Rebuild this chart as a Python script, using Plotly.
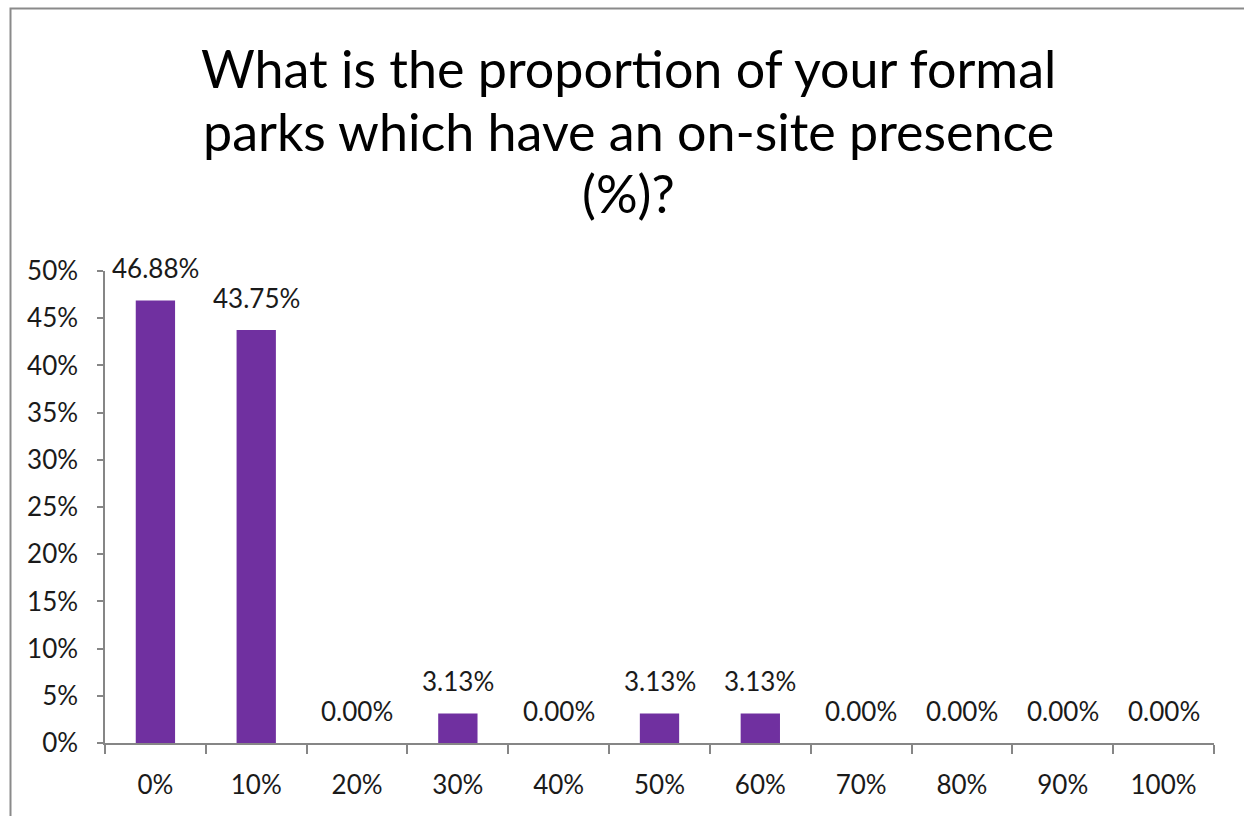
import plotly.graph_objects as go

categories = ["0%", "10%", "20%", "30%", "40%", "50%", "60%", "70%", "80%", "90%", "100%"]
shares = [46.88, 43.75, 0.00, 3.13, 0.00, 3.13, 3.13, 0.00, 0.00, 0.00, 0.00]
y_ticks = [0, 5, 10, 15, 20, 25, 30, 35, 40, 45, 50]
title_lines = ["What is the proportion of your formal",
               "parks which have an on-site presence",
               "(%)?"]

W, H = 1244, 816
L, R, T, B = 105, 30, 271, 73
pw, ph = W - L - R, H - T - B

def px_x(px):
    return (px - L) / pw

def px_y(py):
    return (H - B - py) / ph

FONT = "Lato, 'Open Sans', sans-serif"
PURPLE = "#7030A0"
AXIS = "#868686"
TXT = "#1a1a1a"
FS = 26

fig = go.Figure()
fig.add_trace(go.Bar(
    x=categories,
    y=shares,
    marker=dict(color=PURPLE, line=dict(width=0)),
    width=0.39,
    hoverinfo="skip",
))

# value labels above each bar
for c, v in zip(categories, shares):
    fig.add_annotation(
        x=c, y=v, xref="x", yref="y",
        text=f"{v:.2f}%", showarrow=False,
        yanchor="bottom", yshift=14,
        font=dict(family=FONT, size=FS, color=TXT),
    )

# chart title, one annotation per line
for i, line in enumerate(title_lines):
    fig.add_annotation(
        x=px_x(628), y=px_y(68 + 62.5 * i), xref="paper", yref="paper",
        text=line, showarrow=False, xanchor="center", yanchor="middle",
        font=dict(family=FONT, size=52, color="#000000"),
    )

# outer chart frame
fig.add_shape(
    type="rect", xref="paper", yref="paper",
    x0=px_x(10.5), x1=px_x(1260), y0=px_y(8.5), y1=px_y(830),
    line=dict(color="#8a8a8a", width=2), fillcolor="rgba(0,0,0,0)",
)

fig.update_layout(
    width=W, height=H,
    margin=dict(l=L, r=R, t=T, b=B, pad=0),
    paper_bgcolor="white", plot_bgcolor="white",
    showlegend=False,
    font=dict(family=FONT, size=FS, color=TXT),
)
fig.update_xaxes(
    type="category",
    showline=True, linecolor=AXIS, linewidth=1.5,
    ticks="outside", tickson="boundaries", ticklen=9, tickcolor=AXIS, tickwidth=1.5,
    ticklabelstandoff=18,
    showgrid=False, zeroline=False,
    tickfont=dict(family=FONT, size=FS, color=TXT),
)
fig.update_yaxes(
    range=[0, 50],
    tickvals=y_ticks, ticktext=[f"{t}%" for t in y_ticks],
    showline=True, linecolor=AXIS, linewidth=1.5,
    ticks="outside", ticklen=6, tickcolor=AXIS, tickwidth=1.5,
    ticklabelstandoff=14,
    showgrid=False, zeroline=False,
    tickfont=dict(family=FONT, size=FS, color=TXT),
)

fig.write_html("out.html")
